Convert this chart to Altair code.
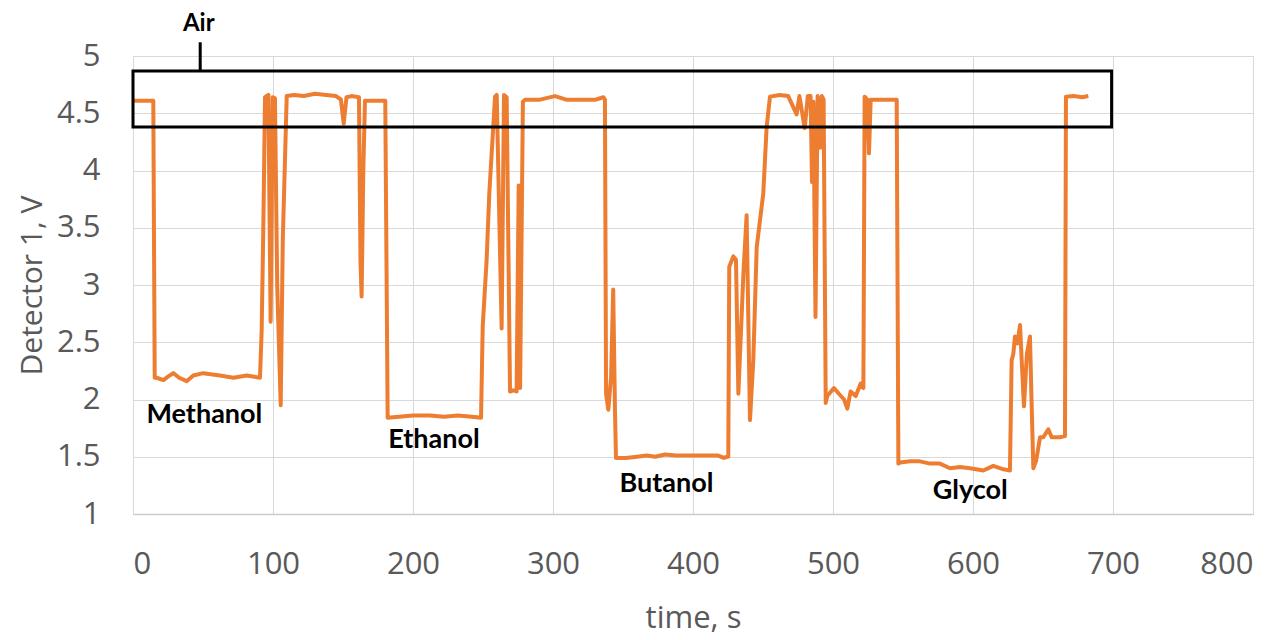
import altair as alt
import pandas as pd

# trace (time s, detector V)
t = [0, 14.5, 15.5, 16.9, 21.7, 25, 28.8, 33, 38.3, 43.1, 50.2, 62.1, 71.7, 81.2, 90.7,
     91.9, 93.1, 94.3, 96.7, 98.3, 99.8, 101.4, 103, 105.5, 107, 109.8, 115, 122, 130, 138, 145, 148.5, 150.5, 152.5, 156, 161.4, 162.5, 163.3, 164.5, 165.7, 172, 180.2,
     181.9, 190, 200, 212, 222, 232, 242, 248.6,
     249.8, 252.6, 254.5, 258.6, 259.8, 263.3, 265, 266.9, 269.3, 271.7, 274, 275.5, 276.5, 278.5, 280, 290, 301.4, 310, 320, 330, 336, 337.1,
     337.9, 339.5, 341.5, 343, 344.3, 345,
     352, 360, 367, 373, 380, 388, 395, 402, 410, 418, 422, 424.5,
     425.2, 425.9, 428.8, 430.7, 432.4, 436, 438.3, 440.7, 443.1, 445.5, 450.2, 452.6, 455, 462, 468, 474, 476, 479.8, 482, 484, 485, 486, 487.5, 489, 491, 492, 493.3,
     494.8, 495.9, 500.7, 504.2, 507.9, 510.2, 512.6, 516.2, 519.8, 521.7,
     522.6, 524.5, 525.7, 526.9, 535, 545.5,
     546.7, 547.9, 555, 562.1, 569.3, 576.4, 583.6, 590.7, 597.9, 607.4, 614.5, 621.7, 626.4,
     627.6, 628.8, 630, 631.7, 633.6, 634.8, 636.4, 638.5, 640.7, 641.8, 643.1, 645, 647.9, 650.2, 653.8, 656.2, 662.1, 665.7,
     666.4, 672, 678, 682.4]
v = [4.61, 4.61, 2.19, 2.19, 2.17, 2.20, 2.23, 2.19, 2.16, 2.21, 2.23, 2.21, 2.19, 2.21, 2.19,
     2.60, 3.51, 4.64, 4.66, 2.68, 4.64, 4.63, 3.00, 1.95, 3.40, 4.65, 4.66, 4.65, 4.67, 4.66, 4.65, 4.62, 4.41, 4.64, 4.65, 4.64, 3.20, 2.90, 4.00, 4.61, 4.61, 4.61,
     1.84, 1.85, 1.86, 1.86, 1.85, 1.86, 1.85, 1.84,
     2.64, 3.22, 3.80, 4.645, 4.66, 2.62, 4.66, 4.64, 2.07, 2.08, 2.07, 3.87, 2.10, 4.60, 4.617, 4.617, 4.65, 4.617, 4.617, 4.617, 4.64, 4.62,
     2.05, 1.91, 2.20, 2.96, 1.88, 1.49,
     1.49, 1.50, 1.51, 1.50, 1.52, 1.51, 1.51, 1.51, 1.51, 1.51, 1.49, 1.50,
     1.50, 3.16, 3.25, 3.22, 2.05, 3.10, 3.61, 1.82, 2.35, 3.33, 3.80, 4.38, 4.645, 4.66, 4.65, 4.49, 4.65, 4.37, 4.65, 4.65, 3.90, 4.60, 2.72, 4.65, 4.20, 4.65, 4.62,
     1.97, 2.03, 2.10, 2.05, 2.00, 1.92, 2.07, 2.03, 2.14, 2.10,
     4.645, 4.62, 4.15, 4.617, 4.617, 4.617,
     1.44, 1.45, 1.46, 1.46, 1.44, 1.44, 1.40, 1.41, 1.40, 1.38, 1.42, 1.39, 1.38,
     2.34, 2.40, 2.55, 2.49, 2.65, 2.34, 1.94, 2.40, 2.55, 2.00, 1.40, 1.46, 1.67, 1.67, 1.74, 1.67, 1.67, 1.68,
     4.645, 4.65, 4.64, 4.65]

label_text = ["Methanol", "Ethanol", "Butanol", "Glycol"]
label_t = [51, 215, 381, 598]
label_v = [1.865, 1.65, 1.265, 1.205]

ORANGE = "#ED7D31"
GRAY = "#595959"

df = pd.DataFrame({"t": t, "v": v, "i": list(range(len(t)))})
xs = alt.Scale(domain=[0, 800], nice=False)
ys = alt.Scale(domain=[1, 5], nice=False)

line = alt.Chart(df).mark_line(color=ORANGE, strokeWidth=4, strokeJoin="round").encode(
    x=alt.X("t:Q", scale=xs, title="time, s",
            axis=alt.Axis(values=list(range(0, 801, 100)), grid=True, gridColor="#d9d9d9",
                          domain=True, domainColor="#cccccc", domainWidth=1.5, ticks=False,
                          labelPadding=35, labelFontSize=31, labelColor=GRAY, labelFont="Open Sans",
                          titleFontSize=31, titleColor=GRAY, titleFont="Open Sans",
                          titleFontWeight="normal", titleY=113, titleBaseline="alphabetic")),
    y=alt.Y("v:Q", scale=ys, title="Detector 1, V",
            axis=alt.Axis(values=[1, 1.5, 2, 2.5, 3, 3.5, 4, 4.5, 5], format="~g", grid=True,
                          gridColor="#d9d9d9", domain=False, ticks=False, labelPadding=33,
                          labelFontSize=31, labelColor=GRAY, labelFont="Open Sans",
                          titleFontSize=30, titleColor=GRAY, titleFont="Open Sans",
                          titleFontWeight="normal", titleX=-92, titleY=229,
                          titleBaseline="alphabetic")),
    order="i:Q",
)

box_df = pd.DataFrame({"x0": [0], "x1": [699], "y0": [4.38], "y1": [4.87]})
box = alt.Chart(box_df).mark_rect(filled=False, stroke="black", strokeWidth=3, clip=False).encode(
    x=alt.X("x0:Q", scale=xs), x2="x1:Q", y=alt.Y("y0:Q", scale=ys), y2="y1:Q")

tick_df = pd.DataFrame({"x": [48], "ya": [4.87], "yb": [5.12]})
tick = alt.Chart(tick_df).mark_rule(color="black", strokeWidth=3, clip=False).encode(
    x=alt.X("x:Q", scale=xs), y=alt.Y("ya:Q", scale=ys), y2="yb:Q")

air_df = pd.DataFrame({"x": [47], "y": [5.28], "s": ["Air"]})
air = alt.Chart(air_df).mark_text(fontSize=24, fontWeight="bold", font="Lato", color="black",
                                  clip=False).encode(
    x=alt.X("x:Q", scale=xs), y=alt.Y("y:Q", scale=ys), text="s:N")

lab_df = pd.DataFrame({"x": label_t, "y": label_v, "s": label_text})
labels = alt.Chart(lab_df).mark_text(fontSize=27, fontWeight="bold", font="Lato", color="black").encode(
    x=alt.X("x:Q", scale=xs), y=alt.Y("y:Q", scale=ys), text="s:N")

chart = alt.layer(line, box, tick, air, labels).properties(
    width=1120, height=458,
    autosize=alt.AutoSizeParams(type="none"),
    padding={"left": 125, "top": 48, "right": 20, "bottom": 124},
).configure_view(stroke=None).configure(background="white")

chart.save("out.html", embed_options={"renderer": "svg", "actions": False})
